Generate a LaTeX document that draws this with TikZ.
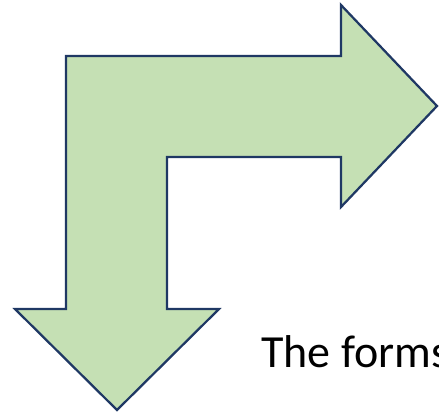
\documentclass[tikz,border=0pt]{standalone}
\usepackage{fontspec}
\setmainfont{Carlito}
\definecolor{arrowfill}{HTML}{C5E0B4}
\definecolor{arrowline}{HTML}{1F3864}
\tikzset{bentarrow/.style={fill=arrowfill, draw=arrowline, line width=2.25pt, line join=miter}}
\begin{document}
\begin{tikzpicture}[x=1pt,y=-1pt]
  \clip (0,0) rectangle (439,413);
  % bent double arrow
  \draw[bentarrow] (66,56) -- (341,56) -- (341,5) -- (437,106) -- (341,207) -- (341,157)
    -- (167,157) -- (167,309) -- (219,309) -- (117,410) -- (15,309) -- (66,309) -- cycle;
  \node[anchor=base west, font=\fontsize{46}{54}\selectfont, inner sep=0pt] (forms) at (261,367) {The forms};
\end{tikzpicture}
\end{document}
